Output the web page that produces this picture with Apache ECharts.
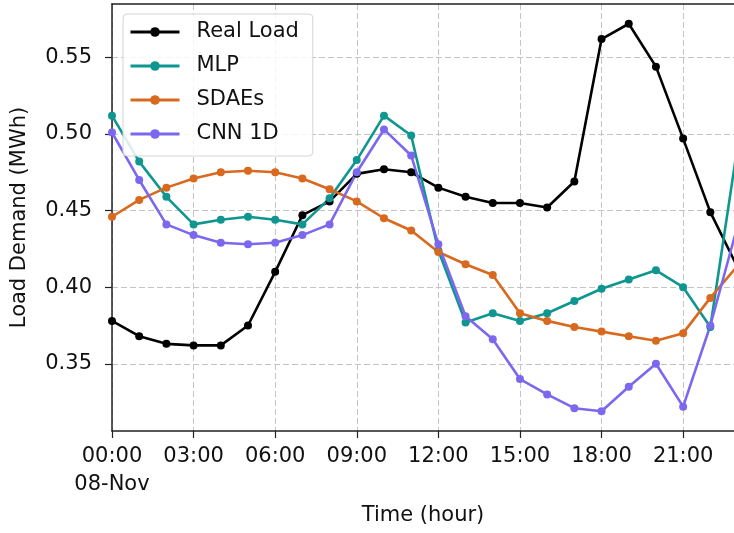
<!DOCTYPE html>
<html>
<head>
<meta charset="utf-8">
<script src="https://cdn.jsdelivr.net/npm/echarts@6/dist/echarts.min.js"></script>
<style>
  html, body { margin: 0; padding: 0; background: #fff; }
  #chart { width: 734px; height: 533px; }
</style>
</head>
<body>
<div id="chart"></div>
<script>
// Hour of day (08-Nov), one reading per hour
const hours = [0, 1, 2, 3, 4, 5, 6, 7, 8, 9, 10, 11, 12, 13, 14, 15, 16, 17, 18, 19, 20, 21, 22, 23];

const realLoad = [0.378, 0.368, 0.363, 0.362, 0.362, 0.375, 0.410, 0.447, 0.456, 0.474, 0.477, 0.475,
                  0.465, 0.459, 0.455, 0.455, 0.452, 0.469, 0.562, 0.572, 0.544, 0.497, 0.449, 0.413];
const mlp      = [0.512, 0.482, 0.459, 0.441, 0.444, 0.446, 0.444, 0.441, 0.458, 0.483, 0.512, 0.499,
                  0.424, 0.377, 0.383, 0.378, 0.383, 0.391, 0.399, 0.405, 0.411, 0.400, 0.374, 0.492];
const sdaes    = [0.446, 0.457, 0.465, 0.471, 0.475, 0.476, 0.475, 0.471, 0.464, 0.456, 0.445, 0.437,
                  0.423, 0.415, 0.408, 0.383, 0.378, 0.374, 0.371, 0.368, 0.365, 0.370, 0.393, 0.414];
const cnn1d    = [0.501, 0.470, 0.441, 0.434, 0.429, 0.428, 0.429, 0.434, 0.441, 0.475, 0.503, 0.486,
                  0.428, 0.381, 0.366, 0.340, 0.330, 0.321, 0.319, 0.335, 0.350, 0.322, 0.375, 0.440];

const xTicks = [0, 3, 6, 9, 12, 15, 18, 21];
const yTicks = [0.35, 0.40, 0.45, 0.50, 0.55];

const FONT = 'DejaVu Sans';
const pair = arr => hours.map((h, i) => [h, arr[i]]);

function hourLabel(v) {
  const h = String(Math.round(v)).padStart(2, '0') + ':00';
  return v === 0 ? h + '\n08-Nov' : h;
}

function lineSeries(name, color, values) {
  return {
    name: name,
    type: 'line',
    data: pair(values),
    symbol: 'circle',
    symbolSize: 8,
    showSymbol: true,
    clip: true,
    lineStyle: { color: color, width: 2.6 },
    itemStyle: { color: color },
    emphasis: { disabled: true },
    animation: false
  };
}

const chart = echarts.init(document.getElementById('chart'), null, { renderer: 'canvas' });

chart.setOption({
  backgroundColor: '#ffffff',
  animation: false,
  grid: { left: 112, right: 0, top: 4, bottom: 101, containLabel: false },
  legend: {
    orient: 'vertical',
    left: 123,
    top: 14,
    padding: [7, 14, 11, 6],
    itemWidth: 49,
    itemHeight: 12,
    itemGap: 12,
    backgroundColor: 'rgba(255,255,255,0.85)',
    borderColor: '#d4d4d4',
    borderWidth: 1,
    borderRadius: 4,
    lineStyle: { width: 3 },
    textStyle: { fontFamily: FONT, fontSize: 21, color: '#111', lineHeight: 22, padding: [0, 0, 0, 12] },
    data: ['Real Load', 'MLP', 'SDAEs', 'CNN 1D']
  },
  xAxis: [{
    type: 'value',
    min: 0,
    max: 22.87,
    name: 'Time (hour)',
    nameLocation: 'middle',
    nameGap: 73,
    nameTextStyle: { fontFamily: FONT, fontSize: 21, color: '#111', lineHeight: 24 },
    axisLine: { show: true, onZero: false, lineStyle: { color: '#222', width: 1.5 } },
    axisTick: { show: true, length: 7, customValues: xTicks, lineStyle: { color: '#222', width: 1.2 } },
    axisLabel: {
      customValues: xTicks,
      margin: 12,
      fontFamily: FONT, fontSize: 21, color: '#111', lineHeight: 28,
      formatter: hourLabel
    },
    splitLine: { show: true, lineStyle: { color: '#c4c4c4', width: 1, type: [6, 3] } }
  }, {
    // top frame line
    type: 'value',
    position: 'top',
    min: 0,
    max: 22.87,
    axisLine: { show: true, lineStyle: { color: '#222', width: 1.5 } },
    axisTick: { show: false },
    axisLabel: { show: false },
    splitLine: { show: false }
  }],
  yAxis: {
    type: 'value',
    min: 0.3061,
    max: 0.5849,
    name: 'Load Demand (MWh)',
    nameLocation: 'middle',
    nameGap: 80,
    nameRotate: 90,
    nameTextStyle: { fontFamily: FONT, fontSize: 21, color: '#111', lineHeight: 24 },
    axisLine: { show: true, lineStyle: { color: '#222', width: 1.5 } },
    axisTick: { show: true, length: 7, customValues: yTicks, lineStyle: { color: '#222', width: 1.2 } },
    axisLabel: {
      customValues: yTicks,
      margin: 20,
      fontFamily: FONT, fontSize: 21, color: '#111',
      formatter: v => v.toFixed(2)
    },
    splitLine: { show: true, lineStyle: { color: '#c4c4c4', width: 1, type: [6, 3] } }
  },
  series: [
    lineSeries('Real Load', '#000000', realLoad),
    lineSeries('MLP', '#0f9690', mlp),
    lineSeries('SDAEs', '#d8691e', sdaes),
    lineSeries('CNN 1D', '#7b68ee', cnn1d)
  ]
});
</script>
</body>
</html>
